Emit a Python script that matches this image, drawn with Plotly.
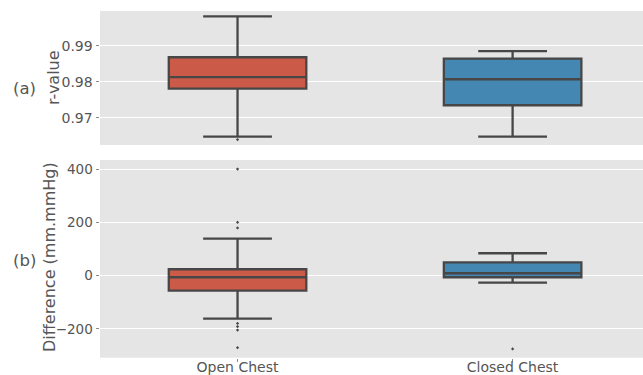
import plotly.graph_objects as go

# Groups
categories = ["Open Chest", "Closed Chest"]

# (a) correlation r-value summary statistics per group
r_lower = [0.9648, 0.9648]
r_q1 = [0.9781, 0.9735]
r_median = [0.9813, 0.9807]
r_q3 = [0.9868, 0.9864]
r_upper = [0.9981, 0.9885]
r_outliers_open = [0.9640]
r_outliers_closed = []

# (b) difference (mm.mmHg) summary statistics per group
d_lower = [-161, -26]
d_q1 = [-56, -6]
d_median = [-6, 9]
d_q3 = [24, 50]
d_upper = [139, 84]
d_outliers_open = [400, 200, 179, -179, -191, -204, -270]
d_outliers_closed = [-275]

fill_colors = ["#CC5A49", "#4387B2"]
line_color = "#474747"
text_color = "#555555"
font_family = "DejaVu Sans"

W, H = 643, 375
x_left = 100
top_y0, top_y1 = 11, 145
bot_y0, bot_y1 = 160, 357.7


def py(p):
    return 1 - p / H


fig = go.Figure()

for i, cat in enumerate(categories):
    fig.add_trace(go.Box(
        x=[cat], q1=[r_q1[i]], median=[r_median[i]], q3=[r_q3[i]],
        lowerfence=[r_lower[i]], upperfence=[r_upper[i]],
        width=0.5, whiskerwidth=0.5, fillcolor=fill_colors[i],
        line=dict(color=line_color, width=2.3), boxpoints=False,
        xaxis="x", yaxis="y", showlegend=False, hoverinfo="skip",
    ))
    fig.add_trace(go.Box(
        x=[cat], q1=[d_q1[i]], median=[d_median[i]], q3=[d_q3[i]],
        lowerfence=[d_lower[i]], upperfence=[d_upper[i]],
        width=0.5, whiskerwidth=0.5, fillcolor=fill_colors[i],
        line=dict(color=line_color, width=2.3), boxpoints=False,
        xaxis="x2", yaxis="y2", showlegend=False, hoverinfo="skip",
    ))

marker = dict(symbol="diamond", size=2.5, color=line_color)
fig.add_trace(go.Scatter(x=[categories[0]] * len(r_outliers_open), y=r_outliers_open,
                         mode="markers", marker=marker, xaxis="x", yaxis="y",
                         showlegend=False))
fig.add_trace(go.Scatter(x=[categories[0]] * len(d_outliers_open), y=d_outliers_open,
                         mode="markers", marker=marker, xaxis="x2", yaxis="y2",
                         showlegend=False))
fig.add_trace(go.Scatter(x=[categories[1]] * len(d_outliers_closed), y=d_outliers_closed,
                         mode="markers", marker=marker, xaxis="x2", yaxis="y2",
                         showlegend=False))

xcommon = dict(
    type="category", categoryorder="array", categoryarray=categories,
    range=[-0.5, 1.474], domain=[x_left / W, 1], showgrid=False,
    zeroline=False, showline=False, automargin=False,
    tickfont=dict(family=font_family, size=14, color=text_color),
)
ycommon = dict(
    showgrid=True, gridcolor="white", gridwidth=1, zeroline=False,
    showline=False, automargin=False, ticks="outside", ticklen=3.5,
    tickcolor="#888888",
)

fig.update_layout(
    width=W, height=H,
    margin=dict(l=0, r=0, t=0, b=0),
    paper_bgcolor="white", plot_bgcolor="#E5E5E5",
    xaxis=dict(**xcommon, anchor="y", showticklabels=False, ticks=""),
    yaxis=dict(**ycommon, anchor="x", domain=[py(top_y1), py(top_y0)],
               range=[0.9625, 0.9996], tickvals=[0.97, 0.98, 0.99],
               tickformat=".2f",
               tickfont=dict(family=font_family, size=14, color=text_color)),
    xaxis2=dict(**xcommon, anchor="y2", ticks="outside", ticklen=3,
                tickcolor="#888888", ticklabelstandoff=-7),
    yaxis2=dict(**ycommon, anchor="x2", domain=[py(bot_y1), py(bot_y0)],
                range=[-307.7, 433.8], tickvals=[-200, 0, 200, 400],
                tickfont=dict(family=font_family, size=13.5, color=text_color)),
)

annot_font = dict(family=font_family, color=text_color)
common = dict(xref="paper", yref="paper", xanchor="center", yanchor="middle",
              showarrow=False)
fig.add_annotation(text="r-value", x=54 / W, y=py(78), textangle=-90,
                   font=dict(**annot_font, size=16), **common)
fig.add_annotation(text="Difference (mm.mmHg)", x=49 / W, y=py(257), textangle=-90,
                   font=dict(**annot_font, size=16), **common)
fig.add_annotation(text="(a)", x=24 / W, y=py(88),
                   font=dict(**annot_font, size=16.5), **common)
fig.add_annotation(text="(b)", x=24 / W, y=py(260),
                   font=dict(**annot_font, size=16.5), **common)

fig.write_html("out.html")
